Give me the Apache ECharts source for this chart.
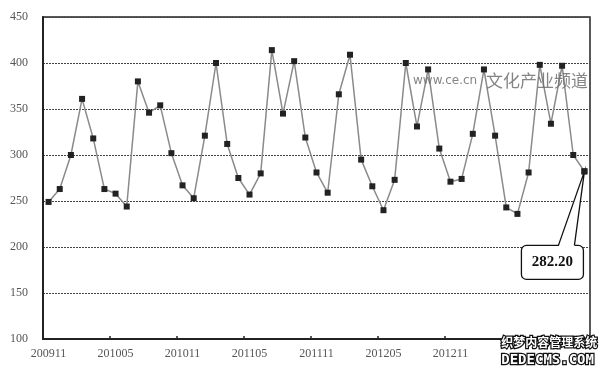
<!DOCTYPE html>
<html><head><meta charset="utf-8">
<script src="https://cdn.jsdelivr.net/npm/echarts@6/dist/echarts.min.js"></script>
<style>html,body{margin:0;padding:0;background:#fff}#c{width:609px;height:372px}</style>
</head><body><div id="c"></div>
<script>
const months = ['200911','200912','201001','201002','201003','201004','201005','201006','201007','201008','201009','201010',
'201011','201012','201101','201102','201103','201104','201105','201106','201107','201108','201109','201110',
'201111','201112','201201','201202','201203','201204','201205','201206','201207','201208','201209','201210',
'201211','201212','201301','201302','201303','201304','201305','201306','201307','201308','201309','201310','201311'];
const values = [249,263,300,361,318,263,258,244,380,346,354,302,
267,253,321,400,312,275,257,280,414,345,402,319,
281,259,366,409,295,266,240,273,400,331,393,307,
271,274,323,393,321,243,236,281,398,334,397,300,282.20];
const yTicks = {min:100, max:450, step:50};
const calloutText = '282.20';

const chart = echarts.init(document.getElementById('c'), null, {renderer:'canvas'});
const serif = 'Liberation Serif';
chart.setOption({
  animation:false,
  backgroundColor:'#fff',
  grid:{left:43, right:19, top:17, bottom:33, show:true, borderColor:'#222', borderWidth:1.5},
  xAxis:{type:'category', data:months, boundaryGap:true,
    axisLine:{lineStyle:{color:'#222', width:2}},
    axisTick:{show:true, inside:true, length:3, interval:5, lineStyle:{color:'#222', width:1.5}},
    axisLabel:{interval:function(i){return i%6===0 && i<=42;}, margin:9, color:'#555', fontFamily:serif, fontSize:12}
  },
  yAxis:{type:'value', min:yTicks.min, max:yTicks.max, interval:yTicks.step,
    axisLine:{show:true, lineStyle:{color:'#222', width:2}},
    axisTick:{show:false},
    axisLabel:{margin:15, color:'#555', fontFamily:serif, fontSize:12},
    splitLine:{lineStyle:{color:'#444', width:1, type:[2,1]}}
  },
  series:[{type:'line', data:values, symbol:'rect', symbolSize:6,
    lineStyle:{color:'#8a8a8a', width:1.5},
    itemStyle:{color:'#222'}, z:3}]
});

const p = chart.convertToPixel({seriesIndex:0}, [values.length-1, values[values.length-1]]);
const bx = p[0]-63, bw = 62, by = p[1]+74, bh = 34;
const b1 = [p[0]-26, by], b2 = [p[0]-10, by];
chart.setOption({graphic:[
  {type:'text', left:413, top:75, z:10, style:{text:'www.ce.cn', fill:'rgba(110,110,110,0.85)', font:'12px "DejaVu Sans"'}},
  {type:'text', left:486, top:72, z:10, style:{text:'文化产业频道', fill:'rgba(110,110,110,0.85)', font:'17px "Noto Sans CJK SC"'}},
  {type:'rect', z:20, shape:{x:bx, y:by, width:bw, height:bh, r:5}, style:{fill:'#fff', stroke:'#111', lineWidth:1.3}},
  {type:'polygon', z:21, shape:{points:[[b1[0],b1[1]+1.5], p, [b2[0],b2[1]+1.5]]}, style:{fill:'#fff', stroke:null}},
  {type:'polyline', z:22, shape:{points:[b1, p, b2]}, style:{stroke:'#111', lineWidth:1.3, fill:null}},
  {type:'rect', z:23, shape:{x:p[0]-3, y:p[1]-3, width:6, height:6}, style:{fill:'#222'}},
  {type:'text', z:24, x:bx+bw/2, y:by+bh/2, style:{text:calloutText, fill:'#111', font:'bold 15px "Liberation Serif"', align:'center', verticalAlign:'middle'}},
  {type:'rect', z:30, shape:{x:500, y:343, width:109, height:29}, style:{fill:'#fff'}},
  {type:'text', z:31, left:500, top:335, style:{text:'织梦内容管理系统', fill:'#fff', stroke:'#111', lineWidth:2.5, font:'bold 12px "Noto Sans CJK SC"'}},
  {type:'text', z:31, left:500, top:352, style:{text:'DEDECMS.COM', fill:'#fff', stroke:'#111', lineWidth:2.5, font:'bold 14px "DejaVu Sans Mono"'}}
]});
</script></body></html>
